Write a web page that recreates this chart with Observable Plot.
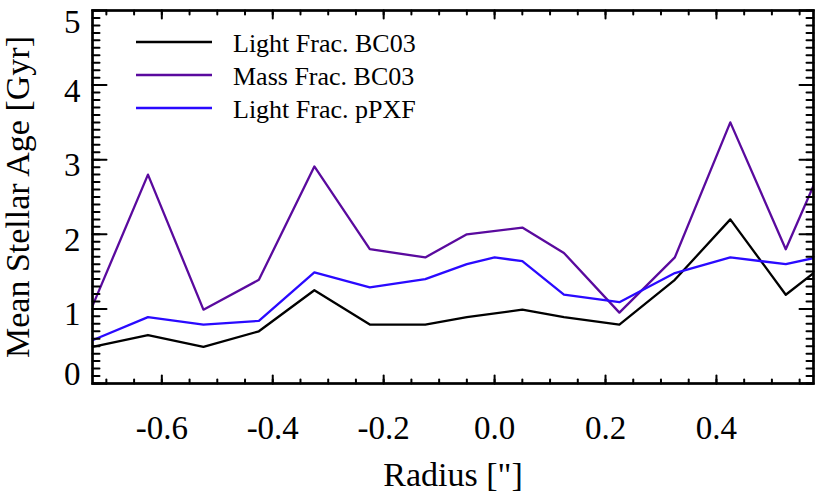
<!DOCTYPE html>
<html><head><meta charset="utf-8">
<script src="https://cdn.jsdelivr.net/npm/d3@7"></script>
<script src="https://cdn.jsdelivr.net/npm/@observablehq/plot@0.6"></script>
<style>
body{margin:0;background:#fff;}
#wrap{position:relative;width:830px;height:498px;background:#fff;}
#wrap svg.legend{position:absolute;left:0;top:0;pointer-events:none;}
</style></head><body><div id="wrap"></div>
<script>
// ---- data ----
const radius     = [-0.725, -0.625, -0.525, -0.425, -0.325, -0.225, -0.125, -0.05, 0.0, 0.05, 0.125, 0.225, 0.325, 0.425, 0.525, 0.575];
const lightBC03  = [0.49, 0.65, 0.49, 0.70, 1.25, 0.79, 0.79, 0.89, null, 0.99, 0.89, 0.79, 1.39, 2.20, 1.19, 1.48];
const massBC03   = [1.04, 2.80, 0.99, 1.39, 2.91, 1.80, 1.69, 2.00, null, 2.09, 1.75, 0.95, 1.69, 3.50, 1.80, 2.65];
const lightPPXF  = [0.58, 0.89, 0.79, 0.84, 1.49, 1.29, 1.40, 1.60, 1.69, 1.64, 1.19, 1.09, 1.48, 1.69, 1.60, 1.68];

const seriesNames  = ["Light Frac. BC03", "Mass Frac. BC03", "Light Frac. pPXF"];
const seriesValues = [lightBC03, massBC03, lightPPXF];
const seriesColors = ["#000000", "#5a0a9e", "#2a0aff"];

const xTickLabels = [-0.6, -0.4, -0.2, 0.0, 0.2, 0.4];
const yTickLabels = [0, 1, 2, 3, 4, 5];
const xMinor = d3.range(-14, 12).map(i => i / 20);
const yMinor = d3.range(0, 51).map(i => i / 10);

const xTitle = "Radius [\"]";
const yTitle = "Mean Stellar Age [Gyr]";

// ---- build table ----
const rows = [];
seriesNames.forEach((name, s) => {
  radius.forEach((r, i) => {
    const v = seriesValues[s][i];
    if (v != null) rows.push({series: name, r, v});
  });
});

const FONT = "'Liberation Serif', 'Times New Roman', Times, serif";
const tickShape = {draw(ctx, l) { ctx.moveTo(0, 0); ctx.lineTo(0, -l); }};
const tk = (data, opts) => Plot.vector(data, {stroke: "black", strokeWidth: 2, anchor: "start", shape: tickShape, ...opts});
const yFmt = d => String(d);

const chart = Plot.plot({
  width: 830,
  height: 498,
  marginLeft: 92,
  marginRight: 17,
  marginTop: 10,
  marginBottom: 115,
  style: {fontFamily: FONT, background: "white", color: "black"},
  x: {domain: [-0.725, 0.575]},
  y: {domain: [0, 5]},
  color: {domain: seriesNames, range: seriesColors},
  marks: [
    // data lines
    ...seriesNames.map(name =>
      Plot.line(rows.filter(d => d.series === name), {x: "r", y: "v", stroke: "series", strokeWidth: 2.3, clip: true})
    ),
    // inward ticks: bottom & top
    tk(xMinor, {x: d => d, frameAnchor: "bottom", length: 4, rotate: 0}),
    tk(xTickLabels, {x: d => d, frameAnchor: "bottom", length: 8, rotate: 0}),
    tk(xMinor, {x: d => d, frameAnchor: "top", length: 4, rotate: 180}),
    tk(xTickLabels, {x: d => d, frameAnchor: "top", length: 8, rotate: 180}),
    // inward ticks: left & right
    tk(yMinor, {y: d => d, frameAnchor: "left", length: 7, rotate: 90}),
    tk(yTickLabels, {y: d => d, frameAnchor: "left", length: 14, rotate: 90}),
    tk(yMinor, {y: d => d, frameAnchor: "right", length: 7, rotate: -90}),
    tk(yTickLabels, {y: d => d, frameAnchor: "right", length: 14, rotate: -90}),
    Plot.frame({stroke: "black", strokeWidth: 2.7}),
    // tick labels
    Plot.axisX(xTickLabels, {tickSize: 0, tickPadding: 32, tickFormat: d => d.toFixed(1), fontSize: 33, label: null}),
    Plot.axisY(yTickLabels.filter(d => d > 0 && d < 5), {tickSize: 0, tickPadding: 12, dy: 6, fontSize: 33, tickFormat: yFmt, label: null}),
    Plot.axisY(yTickLabels.filter(d => d === 0), {tickSize: 0, tickPadding: 12, dy: -9, fontSize: 33, tickFormat: yFmt, label: null}),
    Plot.axisY(yTickLabels.filter(d => d === 5), {tickSize: 0, tickPadding: 12, dy: 12, fontSize: 33, tickFormat: yFmt, label: null}),
    // axis titles
    Plot.text([xTitle], {text: d => d, frameAnchor: "bottom", textAnchor: "middle", lineAnchor: "bottom", dy: 102, fontSize: 34, fill: "black"}),
    Plot.text([yTitle], {text: d => d, frameAnchor: "left", textAnchor: "middle", lineAnchor: "bottom", rotate: -90, dx: -64, fontSize: 34, fill: "black"})
  ]
});

const wrap = document.getElementById("wrap");
wrap.appendChild(chart);

// legend overlay inside the plot frame
const leg = d3.select(wrap).append("svg").attr("class", "legend")
  .attr("width", 830).attr("height", 498);
const g = leg.selectAll("g").data(seriesNames).join("g")
  .attr("transform", (d, i) => `translate(0,${42 + 33 * i})`);
g.append("line").attr("x1", 136).attr("x2", 212).attr("y1", 0).attr("y2", 0)
  .attr("stroke", (d, i) => seriesColors[i]).attr("stroke-width", 2.3);
g.append("text").attr("x", 233).attr("y", 10).text(d => d)
  .attr("font-family", FONT).attr("font-size", 26).attr("fill", "black");
</script></body></html>
